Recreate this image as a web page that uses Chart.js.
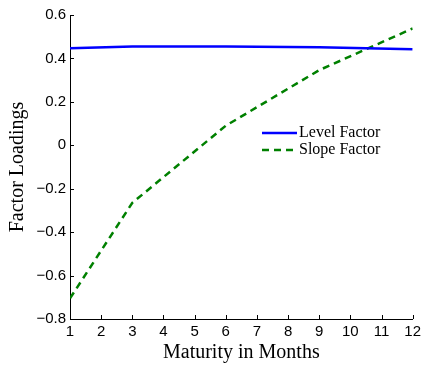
<!DOCTYPE html>
<html>
<head>
<meta charset="utf-8">
<script src="https://cdn.jsdelivr.net/npm/chart.js@4/dist/chart.umd.min.js"></script>
<style>
  html, body { margin: 0; padding: 0; background: #fff; }
  #wrap { width: 425px; height: 367px; }
</style>
</head>
<body>
<div id="wrap"><canvas id="myChart" width="425" height="367"></canvas></div>
<script>
// values
const months = [1, 3, 6, 9, 12];
const levelFactor = [0.447, 0.455, 0.455, 0.451, 0.442];
const slopeFactor = [-0.705, -0.265, 0.09, 0.346, 0.538];
const seriesNames = ["Level Factor", "Slope Factor"];
const xTicks = [1, 2, 3, 4, 5, 6, 7, 8, 9, 10, 11, 12];
const yTicks = [-0.8, -0.6, -0.4, -0.2, 0, 0.2, 0.4, 0.6];

const serif = "'Liberation Serif', 'Times New Roman', serif";
const sans = "'Liberation Sans', Arial, sans-serif";

const toPoints = (vals) => months.map((m, i) => ({ x: m, y: vals[i] }));

const fmt = (v) => {
    if (Math.abs(v) < 1e-9) return "0";
    return v.toFixed(1).replace("-", "\u2212");
};

// matlab style: ticks point inwards
const inwardTicks = {
    id: "inwardTicks",
    afterDraw(chart) {
        const ctx = chart.ctx;
        const xs = chart.scales.x, ys = chart.scales.y;
        const a = chart.chartArea;
        ctx.save();
        ctx.strokeStyle = "#000";
        ctx.lineWidth = 1;
        ctx.beginPath();
        xTicks.forEach((t) => {
            const px = Math.round(xs.getPixelForValue(t)) + 0.5;
            ctx.moveTo(px, a.bottom);
            ctx.lineTo(px, a.bottom - 4);
        });
        yTicks.forEach((t) => {
            const py = Math.round(ys.getPixelForValue(t)) + 0.5;
            ctx.moveTo(a.left, py);
            ctx.lineTo(a.left + 4, py);
        });
        ctx.stroke();
        ctx.restore();
    },
};

// legend sits inside the axes, no box
const innerLegend = {
    id: "innerLegend",
    afterDatasetsDraw(chart) {
        const ctx = chart.ctx;
        const x0 = 262, x1 = 297;
        const rows = [133, 150];
        ctx.save();
        chart.data.datasets.forEach((ds, i) => {
            const y = rows[i];
            ctx.strokeStyle = ds.borderColor;
            ctx.lineWidth = ds.borderWidth;
            ctx.setLineDash(ds.borderDash || []);
            ctx.beginPath();
            ctx.moveTo(x0, y);
            ctx.lineTo(x1, y);
            ctx.stroke();
            ctx.setLineDash([]);
            ctx.fillStyle = "#000";
            ctx.font = "16px " + serif;
            ctx.textBaseline = "middle";
            ctx.fillText(ds.label, x1 + 2, y);
        });
        ctx.restore();
    },
};

const ctx = document.getElementById("myChart").getContext("2d");
const myChart = new Chart(ctx, {
    type: "line",
    data: {
        datasets: [
            {
                label: seriesNames[0],
                data: toPoints(levelFactor),
                borderColor: "#0000ff",
                borderWidth: 2.5,
                pointRadius: 0,
                tension: 0,
                fill: false,
            },
            {
                label: seriesNames[1],
                data: toPoints(slopeFactor),
                borderColor: "#008000",
                borderWidth: 2.5,
                borderDash: [7, 5],
                pointRadius: 0,
                tension: 0,
                fill: false,
            },
        ],
    },
    options: {
        responsive: false,
        animation: false,
        layout: { padding: { left: 6, right: 12, top: 15, bottom: 0 } },
        plugins: {
            legend: { display: false },
            tooltip: { enabled: false },
        },
        scales: {
            x: {
                type: "linear",
                min: 1,
                max: 12,
                afterBuildTicks: (s) => { s.ticks = xTicks.map((v) => ({ value: v })); },
                afterFit: (s) => { s.height = 48; },
                grid: { display: false, drawTicks: false },
                border: { display: true, color: "#000", width: 1 },
                ticks: {
                    color: "#000",
                    padding: 4,
                    maxRotation: 0,
                    font: { family: sans, size: 15 },
                },
                title: {
                    display: true,
                    text: "Maturity in Months",
                    color: "#000",
                    padding: { top: 0, bottom: 2 },
                    font: { family: serif, size: 20 },
                },
            },
            y: {
                min: -0.8,
                max: 0.6,
                afterBuildTicks: (s) => { s.ticks = yTicks.map((v) => ({ value: v })); },
                afterFit: (s) => { s.width = 64; },
                grid: { display: false, drawTicks: false },
                border: { display: true, color: "#000", width: 1 },
                ticks: {
                    color: "#000",
                    padding: 4,
                    font: { family: sans, size: 15 },
                    callback: (v) => fmt(v),
                },
                title: {
                    display: true,
                    text: "Factor Loadings",
                    color: "#000",
                    padding: 0,
                    font: { family: serif, size: 20 },
                },
            },
        },
    },
    plugins: [inwardTicks, innerLegend],
});
</script>
</body>
</html>
